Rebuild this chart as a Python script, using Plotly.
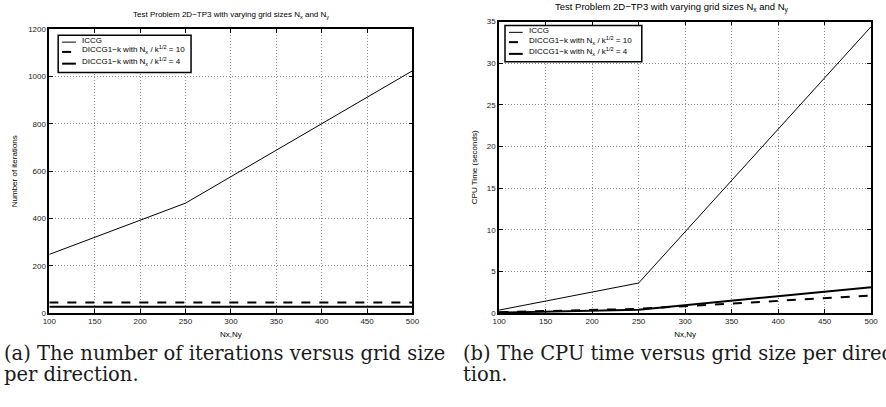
import plotly.graph_objects as go

# Grid sizes per direction
grid_n = [100, 250, 500]

# Number of iterations
iters_iccg = [248, 465, 1025]
iters_diccg10 = [44, 44, 44]
iters_diccg4 = [26, 26, 26]

# CPU time (seconds)
cpu_iccg = [0.35, 3.6, 34.4]
cpu_diccg10 = [0.1, 0.5, 2.1]
cpu_diccg4 = [0.05, 0.4, 3.1]

names = ["ICCG",
         "DICCG1\u2212k with N<sub>x</sub> / k<sup>1/2</sup> = 10",
         "DICCG1\u2212k with N<sub>x</sub> / k<sup>1/2</sup> = 4"]
styles = [dict(color="black", width=1, dash="solid"),
          dict(color="black", width=2, dash="dash"),
          dict(color="black", width=2, dash="solid")]

W, H = 886, 407


def px_x(p):
    return p / W


def px_y(p):
    return 1 - p / H


fig = go.Figure()
for ys, nm, st in zip([iters_iccg, iters_diccg10, iters_diccg4], names, styles):
    fig.add_trace(go.Scatter(x=grid_n, y=ys, mode="lines", name=nm, line=st,
                             xaxis="x", yaxis="y", showlegend=False))
for ys, nm, st in zip([cpu_iccg, cpu_diccg10, cpu_diccg4], names, styles):
    fig.add_trace(go.Scatter(x=grid_n, y=ys, mode="lines", name=nm, line=st,
                             xaxis="x2", yaxis="y2", showlegend=False))

sans = "Liberation Sans, Arial, sans-serif"
tick_font = dict(family=sans, size=8, color="#222")
axis_common = dict(showline=True, linecolor="black", linewidth=1.5, mirror="ticks",
                   ticks="inside", ticklen=4, tickcolor="black", tickwidth=1,
                   showgrid=True, gridcolor="#8c8c8c", griddash="1px,2px", gridwidth=1,
                   zeroline=False, tickfont=tick_font)

fig.update_layout(
    width=W, height=H, margin=dict(l=0, r=0, t=0, b=0),
    paper_bgcolor="white", plot_bgcolor="white",
    font=dict(family=sans, size=8, color="black"),
    xaxis=dict(domain=[px_x(43), px_x(412)], range=[100, 500], dtick=50, anchor="y",
               title=dict(text="Nx,Ny", font=dict(size=8), standoff=6), **axis_common),
    yaxis=dict(domain=[px_y(316), px_y(26)], range=[0, 1200], dtick=200, anchor="x",
               title=dict(text="Number of iterations", font=dict(size=8), standoff=9),
               **axis_common),
    xaxis2=dict(domain=[px_x(500), px_x(878)], range=[100, 500], dtick=50, anchor="y2",
                title=dict(text="Nx,Ny", font=dict(size=8), standoff=6), **axis_common),
    yaxis2=dict(domain=[px_y(316), px_y(18)], range=[0, 35], dtick=5, anchor="x2",
                title=dict(text="CPU Time (seconds)", font=dict(size=8), standoff=8),
                **axis_common),
    showlegend=False,
)

# Legend boxes, one per panel: box corners, sample x-span, text x, row y-positions
legend_boxes = [
    dict(box=(52, 32, 187, 70), sx=(56, 70), tx=74, rows=(39, 49, 61)),
    dict(box=(506, 22, 645, 59), sx=(510, 524), tx=528, rows=(29, 39, 51)),
]
for lb in legend_boxes:
    x0, y0, x1, y1 = lb["box"]
    fig.add_shape(type="rect", xref="paper", yref="paper",
                  x0=px_x(x0), x1=px_x(x1), y0=px_y(y1), y1=px_y(y0),
                  line=dict(color="black", width=1.5), fillcolor="white", layer="above")
    for nm, st, ry in zip(names, styles, lb["rows"]):
        fig.add_shape(type="line", xref="paper", yref="paper",
                      x0=px_x(lb["sx"][0]), x1=px_x(lb["sx"][1]), y0=px_y(ry), y1=px_y(ry),
                      line=st, layer="above")
        fig.add_annotation(text=nm, x=px_x(lb["tx"]), y=px_y(ry - 2), xref="paper",
                           yref="paper", xanchor="left", yanchor="middle", showarrow=False,
                           font=dict(size=8))

title_text = "Test Problem 2D\u2212TP3 with varying grid sizes N<sub>x</sub> and N<sub>y</sub>"
fig.add_annotation(text=title_text, x=px_x(228), y=px_y(11), xref="paper", yref="paper",
                   xanchor="center", yanchor="middle", showarrow=False, font=dict(size=8))
fig.add_annotation(text=title_text, x=px_x(676), y=px_y(4), xref="paper", yref="paper",
                   xanchor="center", yanchor="middle", showarrow=False, font=dict(size=9.5))

cap_font = dict(family="DejaVu Serif, serif", size=19.5, color="#1a1a1a")
captions = [
    (-5, ["(a) The number of iterations versus grid size", "per direction."]),
    (461, ["(b) The CPU time versus grid size per direc", "tion."]),
]
for cx, lines in captions:
    for i, line in enumerate(lines):
        fig.add_annotation(text=line, x=px_x(cx), y=px_y(357 + 22 * i), xref="paper",
                           yref="paper", xanchor="left", yanchor="middle", align="left",
                           showarrow=False, font=cap_font)

fig.write_html("out.html")
